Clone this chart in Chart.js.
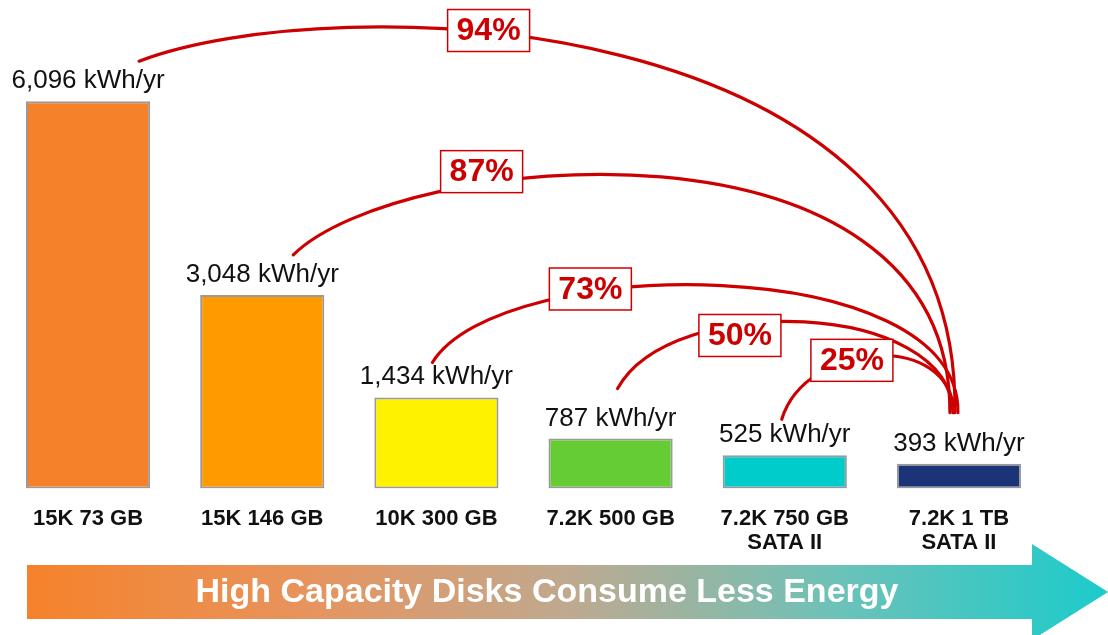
<!DOCTYPE html>
<html>
<head>
<meta charset="utf-8">
<script src="https://cdn.jsdelivr.net/npm/chart.js@4.4.1/dist/chart.umd.min.js"></script>
<style>
  html, body { margin: 0; padding: 0; background: #fff; }
  #wrap { width: 1108px; height: 635px; }
</style>
</head>
<body>
<div id="wrap"><canvas id="diskChart" width="1108" height="635"></canvas></div>
<script>
// Disk models (x axis) and yearly energy use
const diskModels = [
    ['15K 73 GB'],
    ['15K 146 GB'],
    ['10K 300 GB'],
    ['7.2K 500 GB'],
    ['7.2K 750 GB', 'SATA II'],
    ['7.2K 1 TB', 'SATA II']
];
const energyKwh = [6096, 3048, 1434, 787, 525, 393];
const barColors = ['#f5812b', '#ff9a00', '#fff200', '#66cc33', '#00cccc', '#1b3478'];

// Savings of the last disk compared to each of the others
const savingsFrom = [0, 1, 2, 3, 4];
const savingsPct = [94, 87, 73, 50, 25];

const FONT = "'Liberation Sans', Arial, sans-serif";
const RED = '#cc0000';

// Shape of each connector arc (offsets in px from the bars it joins)
const arcShapes = [
    { sdx: 51, sdy: 40, edx: -4, f1: 0.235, lift1: 425, c2dx: 6, lift2: 410, t: 0.38, bdy: -2 },
    { sdx: 31, sdy: 40, edx: -9, f1: 0.16, lift1: 262, c2dx: 1, lift2: 314, t: 0.30, bdy: -12 },
    { sdx: -4, sdy: 35, edx: -1, f1: 0.13, lift1: 160, c2dx: 3, lift2: 162, t: 0.32, bdy: -3 },
    { sdx: 7, sdy: 50, edx: -6, f1: 0.16, lift1: 122, c2dx: -2, lift2: 112, t: 0.36, bdy: 11 },
    { sdx: -3, sdy: 36, edx: -5, f1: 0.14, lift1: 72, c2dx: -3, lift2: 82, t: 0.40, bdy: 1 }
];

function cubicAt(p0, p1, p2, p3, t) {
    const mt = 1 - t;
    return mt * mt * mt * p0 + 3 * mt * mt * t * p1 + 3 * mt * t * t * p2 + t * t * t * p3;
}

// Gradient arrow under the axis labels
const arrowPlugin = {
    id: 'arrow',
    afterDraw(chart) {
        const ctx = chart.ctx;
        const w = chart.width;
        const x0 = 27, headX = 1032, top = 565, bottom = 619, mid = 592;
        const grad = ctx.createLinearGradient(x0, 0, w, 0);
        grad.addColorStop(0, '#f5822a');
        grad.addColorStop(0.25, '#e8935c');
        grad.addColorStop(0.5, '#bfa98f');
        grad.addColorStop(0.75, '#6cc2b8');
        grad.addColorStop(1, '#1ccbcb');
        ctx.save();
        ctx.fillStyle = grad;
        ctx.beginPath();
        ctx.moveTo(x0, top);
        ctx.lineTo(headX, top);
        ctx.lineTo(headX, mid - 48);
        ctx.lineTo(w, mid);
        ctx.lineTo(headX, mid + 48);
        ctx.lineTo(headX, bottom);
        ctx.lineTo(x0, bottom);
        ctx.closePath();
        ctx.fill();
        ctx.fillStyle = '#fff';
        ctx.font = 'bold 34px ' + FONT;
        ctx.textAlign = 'center';
        ctx.textBaseline = 'middle';
        ctx.fillText('High Capacity Disks Consume Less Energy', 547, mid + 1);
        ctx.restore();
    }
};

// Value labels, connector arcs and percentage boxes
const annotationPlugin = {
    id: 'annotations',
    afterDatasetsDraw(chart) {
        const ctx = chart.ctx;
        const bars = chart.getDatasetMeta(0).data;
        ctx.save();

        ctx.fillStyle = '#111';
        ctx.font = '26px ' + FONT;
        ctx.textAlign = 'center';
        ctx.textBaseline = 'alphabetic';
        bars.forEach((bar, i) => {
            ctx.fillText(energyKwh[i].toLocaleString('en-US') + ' kWh/yr', bar.x, bar.y - 13);
        });

        const last = bars[bars.length - 1];
        savingsFrom.forEach((idx, k) => {
            const s = arcShapes[k];
            const bar = bars[idx];
            const S = { x: bar.x + s.sdx, y: bar.y - s.sdy };
            const E = { x: last.x + s.edx, y: last.y - 51 };
            const C1 = { x: S.x + s.f1 * (E.x - S.x), y: E.y - s.lift1 };
            const C2 = { x: E.x + s.c2dx, y: E.y - s.lift2 };

            ctx.strokeStyle = RED;
            ctx.lineWidth = 3.2;
            ctx.lineCap = 'round';
            ctx.beginPath();
            ctx.moveTo(S.x, S.y);
            ctx.bezierCurveTo(C1.x, C1.y, C2.x, C2.y, E.x, E.y);
            ctx.stroke();

            const bx = cubicAt(S.x, C1.x, C2.x, E.x, s.t);
            const by = cubicAt(S.y, C1.y, C2.y, E.y, s.t) + s.bdy;
            const bw = 82, bh = 42;
            ctx.fillStyle = '#fff';
            ctx.fillRect(bx - bw / 2, by - bh / 2, bw, bh);
            ctx.lineWidth = 1.5;
            ctx.strokeRect(bx - bw / 2, by - bh / 2, bw, bh);
            ctx.fillStyle = RED;
            ctx.font = 'bold 32px ' + FONT;
            ctx.textBaseline = 'middle';
            ctx.fillText(savingsPct[k] + '%', bx, by + 1);
        });
        ctx.restore();
    }
};

new Chart(document.getElementById('diskChart'), {
    type: 'bar',
    data: {
        labels: diskModels,
        datasets: [{
            data: energyKwh,
            backgroundColor: barColors,
            borderColor: '#9a9a9a',
            borderWidth: 2,
            borderSkipped: false,
            barPercentage: 0.713,
            categoryPercentage: 1
        }]
    },
    options: {
        responsive: false,
        devicePixelRatio: 1,
        animation: false,
        layout: {
            padding: { left: 1, right: 62, top: 12, bottom: 62 }
        },
        plugins: {
            legend: { display: false },
            tooltip: { enabled: false }
        },
        scales: {
            x: {
                grid: { display: false, drawTicks: false },
                border: { display: false },
                ticks: {
                    color: '#111',
                    padding: 18,
                    maxRotation: 0,
                    autoSkip: false,
                    font: { family: FONT, size: 22, weight: 'bold', lineHeight: 1.1 }
                }
            },
            y: {
                display: false,
                min: 0,
                max: 7500
            }
        }
    },
    plugins: [arrowPlugin, annotationPlugin]
});
</script>
</body>
</html>
